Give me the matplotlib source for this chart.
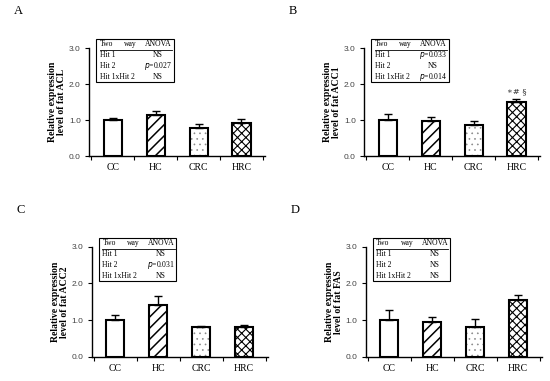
import matplotlib.pyplot as plt
import numpy as np

groups = ['CC', 'HC', 'CRC', 'HRC']
hatches = ['', '///', '...', 'xxxx']
hatch_colors = ['black', 'black', '#888888', 'black']
hatch_widths = [1.0, 1.1, 0.45, 0.8]

acl = [1.00, 1.13, 0.78, 0.93]
acl_err = [0.05, 0.11, 0.10, 0.09]
acc1 = [1.00, 0.97, 0.86, 1.51]
acc1_err = [0.16, 0.12, 0.12, 0.07]
acc2 = [1.00, 1.40, 0.80, 0.82]
acc2_err = [0.13, 0.25, 0.05, 0.05]
fas = [1.00, 0.96, 0.81, 1.55]
fas_err = [0.28, 0.13, 0.22, 0.13]

anova_rows = ['Hit 1', 'Hit 2', 'Hit 1xHit 2']
anova_a = ['NS', 'p=0.027', 'NS']
anova_b = ['p=0.033', 'NS', 'p=0.014']
anova_c = ['NS', 'p=0.031', 'NS']
anova_d = ['NS', 'NS', 'NS']

panels = [
    ('A', 'ACL', acl, acl_err, anova_a, None, [0.162, 0.590, 0.32, 0.284]),
    ('B', 'ACC1', acc1, acc1_err, anova_b, '\u2217# \u00a7', [0.662, 0.590, 0.32, 0.284]),
    ('C', 'ACC2', acc2, acc2_err, anova_c, None, [0.167, 0.064, 0.32, 0.288]),
    ('D', 'FAS', fas, fas_err, anova_d, None, [0.665, 0.064, 0.32, 0.288]),
]

serif = 'Liberation Serif'
sans = 'Liberation Sans'

fig = plt.figure(figsize=(5.5, 3.81), dpi=100)

for letter, gene, vals, errs, anova, mark, pos in panels:
    ax = fig.add_axes(pos)
    x = np.arange(len(groups))
    # hatch fill first (hatch takes the edge colour), then the black outline on top
    for xi, v, h, hc, hw in zip(x, vals, hatches, hatch_colors, hatch_widths):
        with plt.rc_context({'hatch.linewidth': hw}):
            ax.bar(xi, v, width=0.42, color='white', edgecolor=hc, linewidth=0,
                   hatch=h, zorder=2)
    ax.bar(x, vals, width=0.42, fill=False, edgecolor='black', linewidth=1.5, zorder=2.5)
    ax.errorbar(x, vals, yerr=[np.zeros(len(errs)), errs], fmt='none',
                ecolor='black', elinewidth=1.0, capsize=3, capthick=1.0, zorder=3)

    ax.set_xlim(-0.55, 3.55)
    ax.set_ylim(0, 3.0)
    ax.spines['top'].set_visible(False)
    ax.spines['right'].set_visible(False)
    ax.spines['left'].set_linewidth(1.0)
    ax.spines['bottom'].set_linewidth(1.0)

    ax.set_yticks([0, 1, 2, 3])
    ax.set_yticklabels(['0.0', '1.0', '2.0', '3.0'], fontfamily=sans, fontsize=6, color='#444444')
    ax.tick_params(axis='y', direction='out', length=3, width=0.8, pad=3)

    ax.set_xticks(np.arange(-0.5, 4.0, 1.0))
    ax.set_xticklabels([])
    ax.tick_params(axis='x', which='major', direction='out', length=3, width=0.8)
    ax.set_xticks(x, minor=True)
    ax.set_xticklabels(groups, minor=True, fontfamily=serif, fontsize=7)
    ax.tick_params(axis='x', which='minor', length=0, pad=5)

    ax.set_ylabel('Relative expression\nlevel of fat ' + gene, fontfamily=serif,
                  fontsize=7, fontweight='bold', labelpad=2, linespacing=1.0)

    fig.text(pos[0] - 0.137, pos[1] + pos[3] + 0.09, letter, fontfamily=serif, fontsize=9)

    # ANOVA box
    bx0, bx1, by0, by1 = 0.04, 0.48, 0.685, 1.085
    ax.add_patch(plt.Rectangle((bx0, by0), bx1 - bx0, by1 - by0, transform=ax.transAxes,
                               fill=False, edgecolor='black', linewidth=0.8, clip_on=False))
    row_h = (by1 - by0) / 4.0
    ty = by1 - row_h * 0.5
    fs = 5.5
    ax.text(bx0 + 0.02, ty, 'Two', transform=ax.transAxes, fontfamily=serif, fontsize=fs, va='center')
    ax.text(bx0 + 0.16, ty, 'way', transform=ax.transAxes, fontfamily=serif, fontsize=fs, va='center')
    ax.text(bx1 - 0.01, ty, 'ANOVA', transform=ax.transAxes, fontfamily=serif, fontsize=fs,
            va='center', ha='right')
    ax.plot([bx0 + 0.02, bx1 - 0.01], [by1 - row_h, by1 - row_h], transform=ax.transAxes,
            color='black', linewidth=0.6, clip_on=False)
    for i, (rname, res) in enumerate(zip(anova_rows, anova)):
        yy = by1 - row_h * (i + 1.5)
        ax.text(bx0 + 0.02, yy, rname, transform=ax.transAxes, fontfamily=serif, fontsize=fs, va='center')
        if res.startswith('p='):
            ax.text(bx1 - 0.01, yy, '$\\it{p}$=' + res[2:], transform=ax.transAxes,
                    fontfamily=serif, fontsize=fs, va='center', ha='right')
        else:
            ax.text(bx1 - 0.09, yy, res, transform=ax.transAxes, fontfamily=serif, fontsize=fs,
                    va='center', ha='center')

    if mark:
        ax.text(3, vals[3] + errs[3] + 0.12, mark, ha='center', va='bottom',
                fontfamily=['DejaVu Serif'], fontsize=6, color='#333333')

fig.savefig('out.png', dpi=100)
